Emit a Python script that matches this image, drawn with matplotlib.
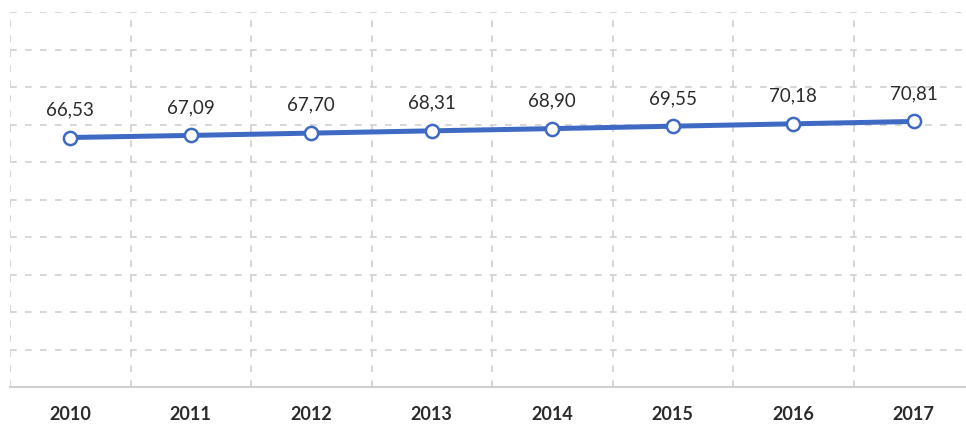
import matplotlib.pyplot as plt

# yearly values
years = ['2010', '2011', '2012', '2013', '2014', '2015', '2016', '2017']
values = [66.53, 67.09, 67.70, 68.31, 68.90, 69.55, 70.18, 70.81]

line_color = '#3F6AC4'
grid_color = '#D0D0D0'

fig = plt.figure(figsize=(9.66, 4.25), dpi=100)
# plot area runs a little past the right edge of the figure
ax = fig.add_axes([10 / 966, 38 / 425, 964 / 966, 375 / 425])

x = list(range(len(years)))
ax.plot(x, values, color=line_color, linewidth=3.6, marker='o',
        markersize=9.5, markerfacecolor='white', markeredgecolor=line_color,
        markeredgewidth=1.8, zorder=3, solid_capstyle='round')

for xi, v in zip(x, values):
    ax.annotate(f"{v:.2f}".replace('.', ','), (xi, v), xytext=(0, 20),
                textcoords='offset points', ha='center', va='center',
                fontsize=13.5, color='#2B2B2B', family='Lato')

ax.set_xlim(-0.5, len(years) - 0.5)
ax.set_ylim(0, 100)
ax.set_yticks(range(10, 101, 10))
ax.set_xticks(x)
ax.set_xticklabels(years, fontsize=13, fontweight='bold', color='#2B2B2B', family='Lato')
ax.set_xticks([i - 0.5 for i in range(len(years) + 1)], minor=True)

ax.grid(which='major', axis='y', color=grid_color, linestyle=(0, (4, 5)), linewidth=1.2)
ax.grid(which='minor', axis='x', color=grid_color, linestyle=(0, (4, 5)), linewidth=1.2)
ax.set_axisbelow(True)

ax.tick_params(axis='both', which='both', length=0)
ax.tick_params(axis='x', pad=14)
ax.set_yticklabels([])

for side in ['top', 'right', 'left']:
    ax.spines[side].set_visible(False)
ax.spines['bottom'].set_color('#CFCFCF')
ax.spines['bottom'].set_linewidth(1.5)

fig.savefig('out.png', dpi=100)
